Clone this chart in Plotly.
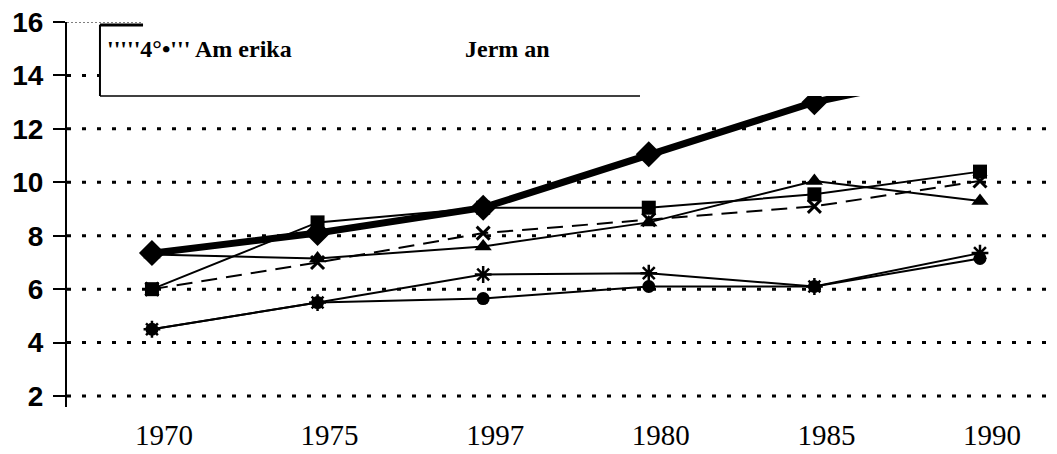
import plotly.graph_objects as go

# ---- data ----
years = ["1970", "1975", "1997", "1980", "1985", "1990"]
amerika = [7.35, 8.1, 9.05, 11.05, 13.0, 14.3]      # diamond, thick
jerman = [6.0, 8.5, 9.05, 9.05, 9.55, 10.4]         # square
seri3 = [7.3, 7.15, 7.6, 8.5, 10.05, 9.3]           # triangle
seri4 = [6.0, 7.0, 8.1, 8.6, 9.1, 10.05]            # x, dashed
seri5 = [4.5, 5.5, 6.55, 6.6, 6.1, 7.35]            # asterisk
seri6 = [4.5, 5.5, 5.65, 6.1, 6.1, 7.15]            # circle
y_ticks = [2, 4, 6, 8, 10, 12, 14, 16]
legend_text_1 = "'''''4°•''' Am erika"
legend_text_2 = "Jerm an"

BLACK = "#000000"
fig = go.Figure()

fig.add_trace(go.Scatter(x=years, y=amerika, name="Amerika", mode="lines+markers",
                         line=dict(color=BLACK, width=7),
                         marker=dict(symbol="diamond", size=20, color=BLACK)))
fig.add_trace(go.Scatter(x=years, y=jerman, name="Jerman", mode="lines+markers",
                         line=dict(color=BLACK, width=2),
                         marker=dict(symbol="square", size=14, color=BLACK)))
fig.add_trace(go.Scatter(x=years, y=seri3, name="Seri 3", mode="lines+markers",
                         line=dict(color=BLACK, width=2),
                         marker=dict(symbol="triangle-up", size=15, color=BLACK)))
fig.add_trace(go.Scatter(x=years, y=seri4, name="Seri 4", mode="lines+markers",
                         line=dict(color=BLACK, width=2, dash="16px,9px"),
                         marker=dict(symbol="x-thin", size=13, color=BLACK,
                                     line=dict(color=BLACK, width=3))))
fig.add_trace(go.Scatter(x=years, y=seri5, name="Seri 5", mode="lines+markers",
                         line=dict(color=BLACK, width=2),
                         marker=dict(symbol="asterisk", size=14, color=BLACK,
                                     line=dict(color=BLACK, width=2.5))))
fig.add_trace(go.Scatter(x=years, y=seri6, name="Seri 6", mode="lines+markers",
                         line=dict(color=BLACK, width=2),
                         marker=dict(symbol="circle", size=13, color=BLACK)))

shapes = []
# dotted gridlines for 2..12 across the plot
for v in y_ticks[:6]:
    shapes.append(dict(type="line", xref="paper", yref="y", x0=0, x1=1, y0=v, y1=v,
                       line=dict(color=BLACK, width=3, dash="4px,11px"), layer="below"))
# white area where the legend box sits (clips lines above it)
shapes.append(dict(type="rect", xref="paper", yref="y", x0=0.0333, x1=1.0, y0=13.23, y1=16.5,
                   fillcolor="white", line=dict(width=0), layer="above"))
# partial gridline at 14
shapes.append(dict(type="line", xref="paper", yref="y", x0=0, x1=0.0333, y0=14, y1=14,
                   line=dict(color=BLACK, width=3, dash="4px,11px"), layer="above"))
# fine dotted line at 16
shapes.append(dict(type="line", xref="paper", yref="y", x0=0, x1=0.0768, y0=16, y1=16,
                   line=dict(color=BLACK, width=1, dash="2px,2px"), layer="above"))
# legend frame
shapes.append(dict(type="line", xref="paper", yref="y", x0=0.0333, x1=0.0768, y0=15.89, y1=15.89,
                   line=dict(color=BLACK, width=3), layer="above"))
shapes.append(dict(type="line", xref="paper", yref="y", x0=0.0333, x1=0.0333, y0=15.9, y1=13.23,
                   line=dict(color=BLACK, width=2), layer="above"))
shapes.append(dict(type="line", xref="paper", yref="y", x0=0.0333, x1=0.5788, y0=13.23, y1=13.23,
                   line=dict(color=BLACK, width=1.5), layer="above"))

annotations = [
    dict(xref="paper", yref="y", x=0.0384, y=14.99, text=legend_text_1, showarrow=False,
         xanchor="left", yanchor="middle",
         font=dict(family="Liberation Serif", size=24, color=BLACK, weight="bold")),
    dict(xref="paper", yref="y", x=0.40, y=14.99, text=legend_text_2, showarrow=False,
         xanchor="left", yanchor="middle",
         font=dict(family="Liberation Serif", size=24, color=BLACK, weight="bold")),
]

fig.update_layout(
    width=1057, height=454,
    margin=dict(l=67, r=0, t=22, b=47, autoexpand=False),
    paper_bgcolor="white", plot_bgcolor="white",
    showlegend=False,
    shapes=shapes, annotations=annotations,
    xaxis=dict(type="category", range=[-0.513, 5.465], showgrid=False, showline=False,
               zeroline=False, ticks="", ticklabelshift=12, ticklabelstandoff=8,
               automargin=False,
               tickfont=dict(family="Liberation Serif", size=29, color=BLACK)),
    yaxis=dict(range=[1.59, 16], tickvals=y_ticks, showgrid=False, zeroline=False,
               showline=True, linecolor=BLACK, linewidth=2,
               ticks="outside", ticklen=12, tickwidth=2, tickcolor=BLACK,
               ticklabelstandoff=4, automargin=False,
               tickfont=dict(family="Liberation Sans", size=28, color=BLACK, weight="bold")),
)

fig.write_html("out.html", config={"displayModeBar": False},
               post_script="document.body.style.margin='0';document.body.style.overflow='hidden';")
